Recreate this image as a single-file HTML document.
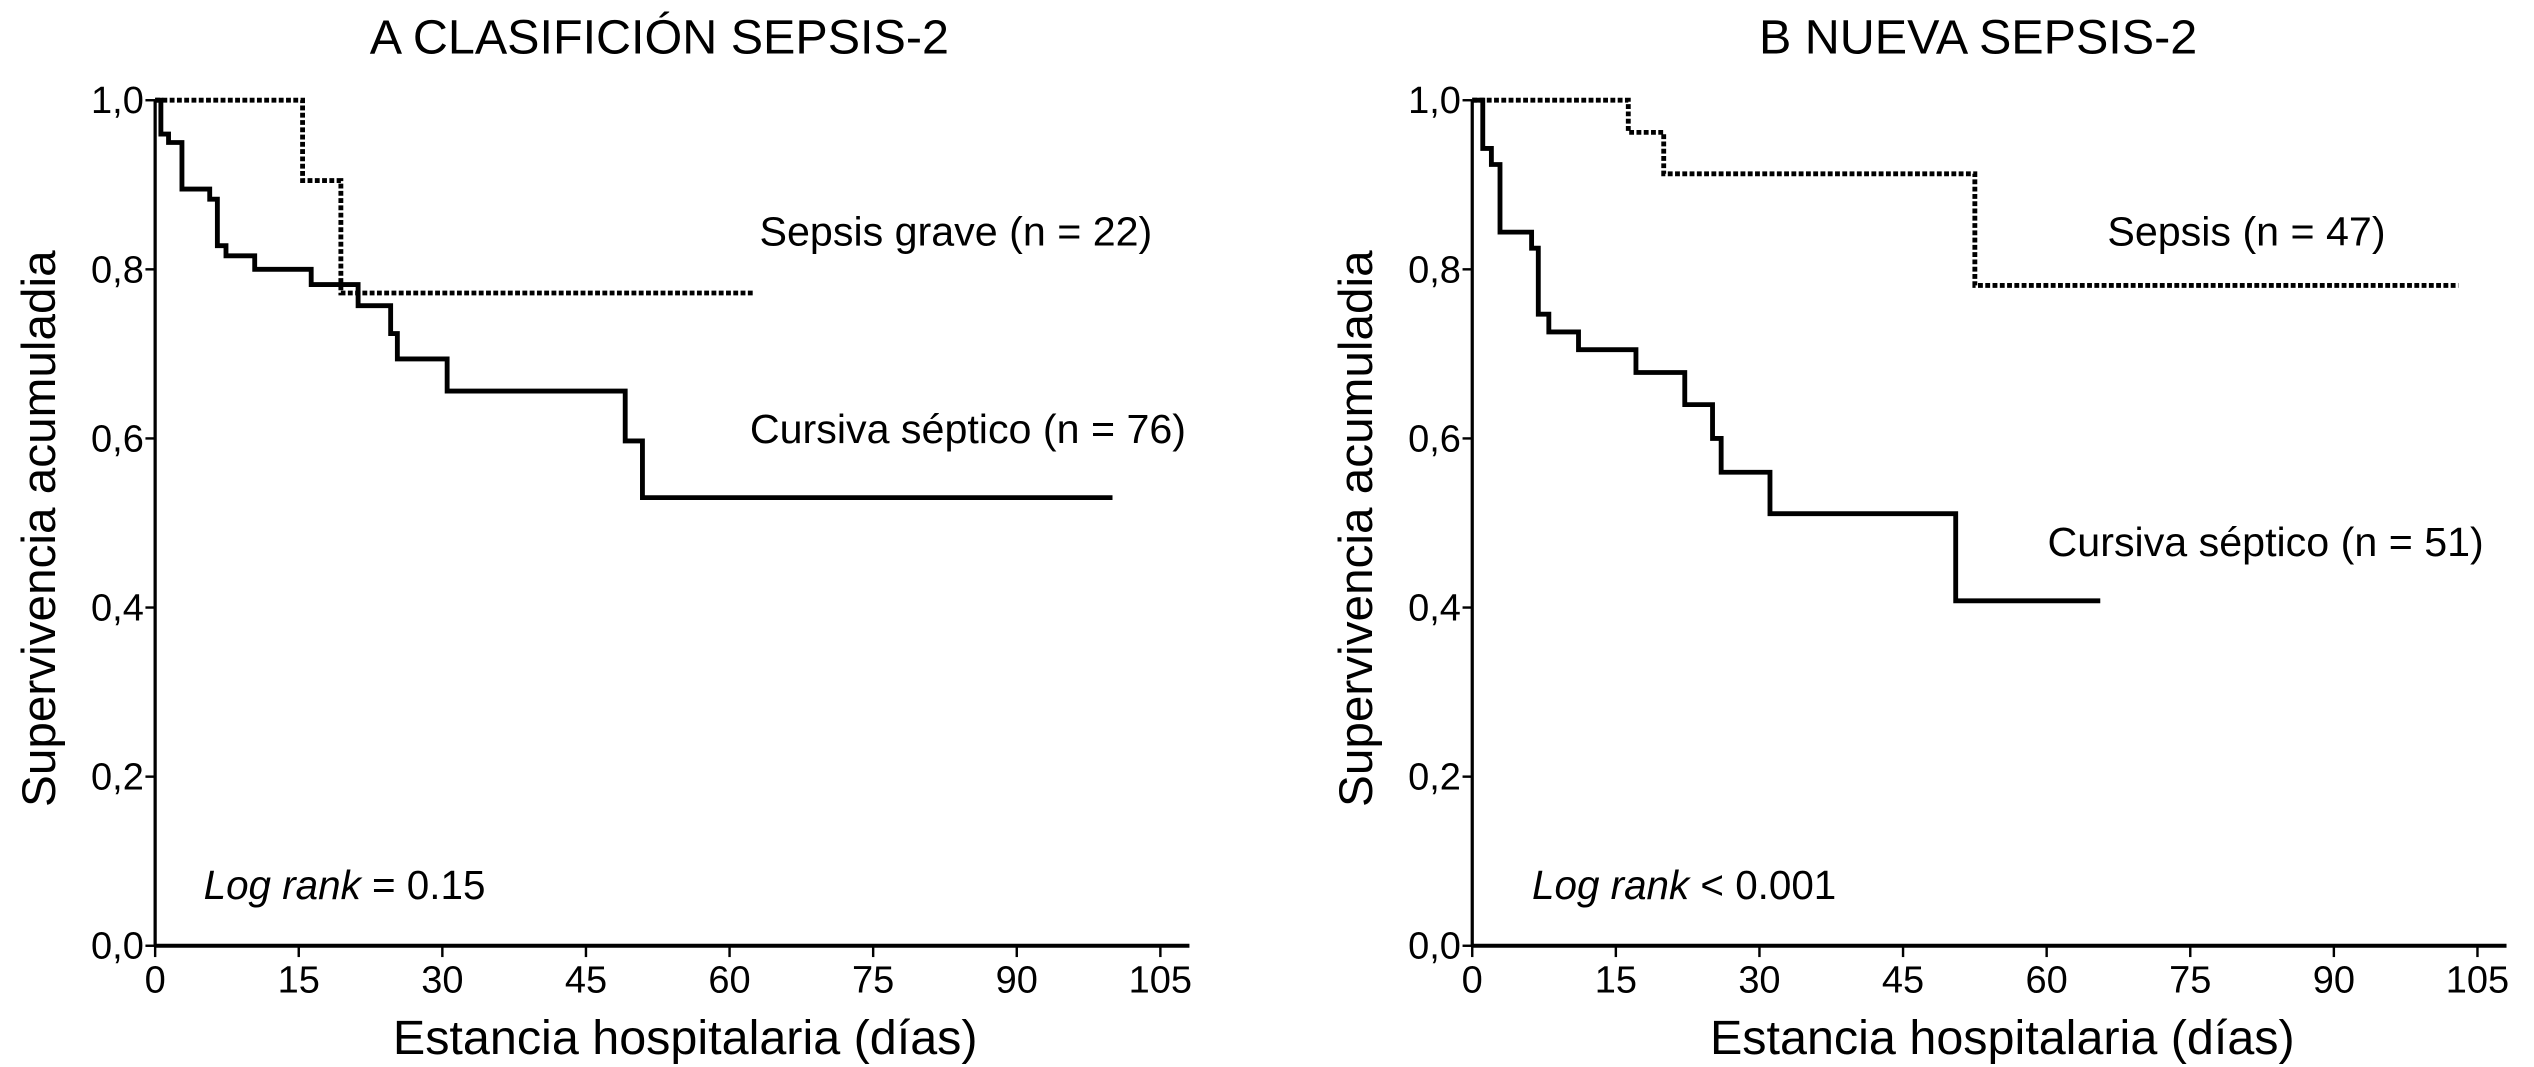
<!DOCTYPE html>
<html><head><meta charset="utf-8"><style>
html,body{margin:0;padding:0;background:#fff;}
svg{display:block;}
text{font-family:"Liberation Sans",sans-serif;fill:#000;}
</style></head><body>
<svg id="chart" width="2534" height="1067" viewBox="0 0 1568 660" preserveAspectRatio="none" xmlns="http://www.w3.org/2000/svg">
<g id="pA"></g>
<g id="pB"></g>
</svg>
<script>
const xTicks = [0,15,30,45,60,75,90,105];
const yTicks = [0,0.2,0.4,0.6,0.8,1.0];
const yTickLabels = ["0,0","0,2","0,4","0,6","0,8","1,0"];
// Panel A
const aSolidT = [0,0.6,1.4,2.8,5.7,6.5,7.4,10.4,16.3,21.2,24.6,25.3,30.5,49.1,50.9,100];
const aSolidS = [1.0,0.96,0.95,0.895,0.883,0.828,0.816,0.80,0.782,0.757,0.724,0.694,0.656,0.597,0.530,0.530];
const aDotT = [0,15.4,19.4,62.5];
const aDotS = [1.0,0.905,0.772,0.772];
// Panel B
const bSolidT = [0,1.1,2.0,2.9,6.2,6.9,8.0,11.1,17.1,22.2,25.1,26.0,31.1,50.5,65.6];
const bSolidS = [1.0,0.943,0.924,0.844,0.825,0.747,0.726,0.705,0.678,0.640,0.600,0.560,0.511,0.408,0.408];
const bDotT = [0,16.3,20.0,52.5,103];
const bDotS = [1.0,0.962,0.913,0.781,0.781];

const NS="http://www.w3.org/2000/svg";
function mk(parent,tag,attrs,txt){const e=document.createElementNS(NS,tag);for(const k in attrs)e.setAttribute(k,attrs[k]);if(txt!==undefined)e.textContent=txt;parent.appendChild(e);return e;}

function panel(g,x0,opts){
  const y0=585,yTop=62,pxDay=5.924,pxU=523;
  const X=t=>x0+t*pxDay, Y=v=>y0-v*pxU;
  let e;
  e=mk(g,'text',{x:opts.titleX,y:33,'font-size':30,'text-anchor':'middle'},opts.title);
  
  
  e=mk(g,'text',{x:0,y:0,'font-size':29.5,'text-anchor':'middle',transform:`translate(${x0-62},327) rotate(-90)`},'Supervivencia acumuladia');
  
  
  e=mk(g,'text',{x:x0+328,y:652,'font-size':30,'text-anchor':'middle'},'Estancia hospitalaria (días)');
  
  
  e=mk(g,'line',{x1:x0,y1:yTop,x2:x0,y2:y0,stroke:'#000','stroke-width':2});
  
  
  e=mk(g,'line',{x1:x0,y1:y0,x2:x0+640,y2:y0,stroke:'#000','stroke-width':2.5});
  
  
  yTicks.forEach((v,i)=>{
    e=mk(g,'line',{x1:x0-6,y1:Y(v),x2:x0,y2:Y(v),stroke:'#000','stroke-width':1.5});
    
    
    e=mk(g,'text',{x:x0-7,y:Y(v)+8,'font-size':23.5,'text-anchor':'end'},yTickLabels[i]);
    
    
  });
  xTicks.forEach(t=>{
    e=mk(g,'line',{x1:X(t),y1:y0,x2:X(t),y2:y0+7,stroke:'#000','stroke-width':1.5});
    
    
    e=mk(g,'text',{x:X(t),y:y0+29,'font-size':23.5,'text-anchor':'middle'},String(t));
    
    
  });
  function step(T,S){let d=`M${X(T[0])},${Y(S[0])}`;for(let i=1;i<T.length;i++){d+=` H${X(T[i])} V${Y(S[i])}`;}return d;}
  e=mk(g,'path',{d:step(opts.dotT,opts.dotS),fill:'none',stroke:'#000','stroke-width':3,'stroke-dasharray':'3,1.5'});
  
  
  e=mk(g,'path',{d:step(opts.solT,opts.solS),fill:'none',stroke:'#000','stroke-width':3});
  
  
  opts.labels.forEach(l=>{
    e=mk(g,'text',{x:l[0],y:l[1],'font-size':25.5},l[2]);
    
    
  });
  e=mk(g,'text',{x:x0+opts.lrX,y:556,'font-size':25});
  
  
  mk(e,'tspan',{'font-style':'italic'},'Log rank');
  mk(e,'tspan',{},opts.lrText);
}
panel(document.getElementById('pA'),96,{title:'A CLASIFICIÓN SEPSIS-2',titleX:408,
  solT:aSolidT,solS:aSolidS,dotT:aDotT,dotS:aDotS,
  labels:[[470,152,'Sepsis grave (n = 22)'],[464,274,'Cursiva séptico (n = 76)']],lrX:30,lrText:' = 0.15'});
panel(document.getElementById('pB'),911,{title:'B NUEVA SEPSIS-2',titleX:1224,
  solT:bSolidT,solS:bSolidS,dotT:bDotT,dotS:bDotS,
  labels:[[1304,152,'Sepsis (n = 47)'],[1267,344,'Cursiva séptico (n = 51)']],lrX:37,lrText:' < 0.001'});
</script>
</body></html>
